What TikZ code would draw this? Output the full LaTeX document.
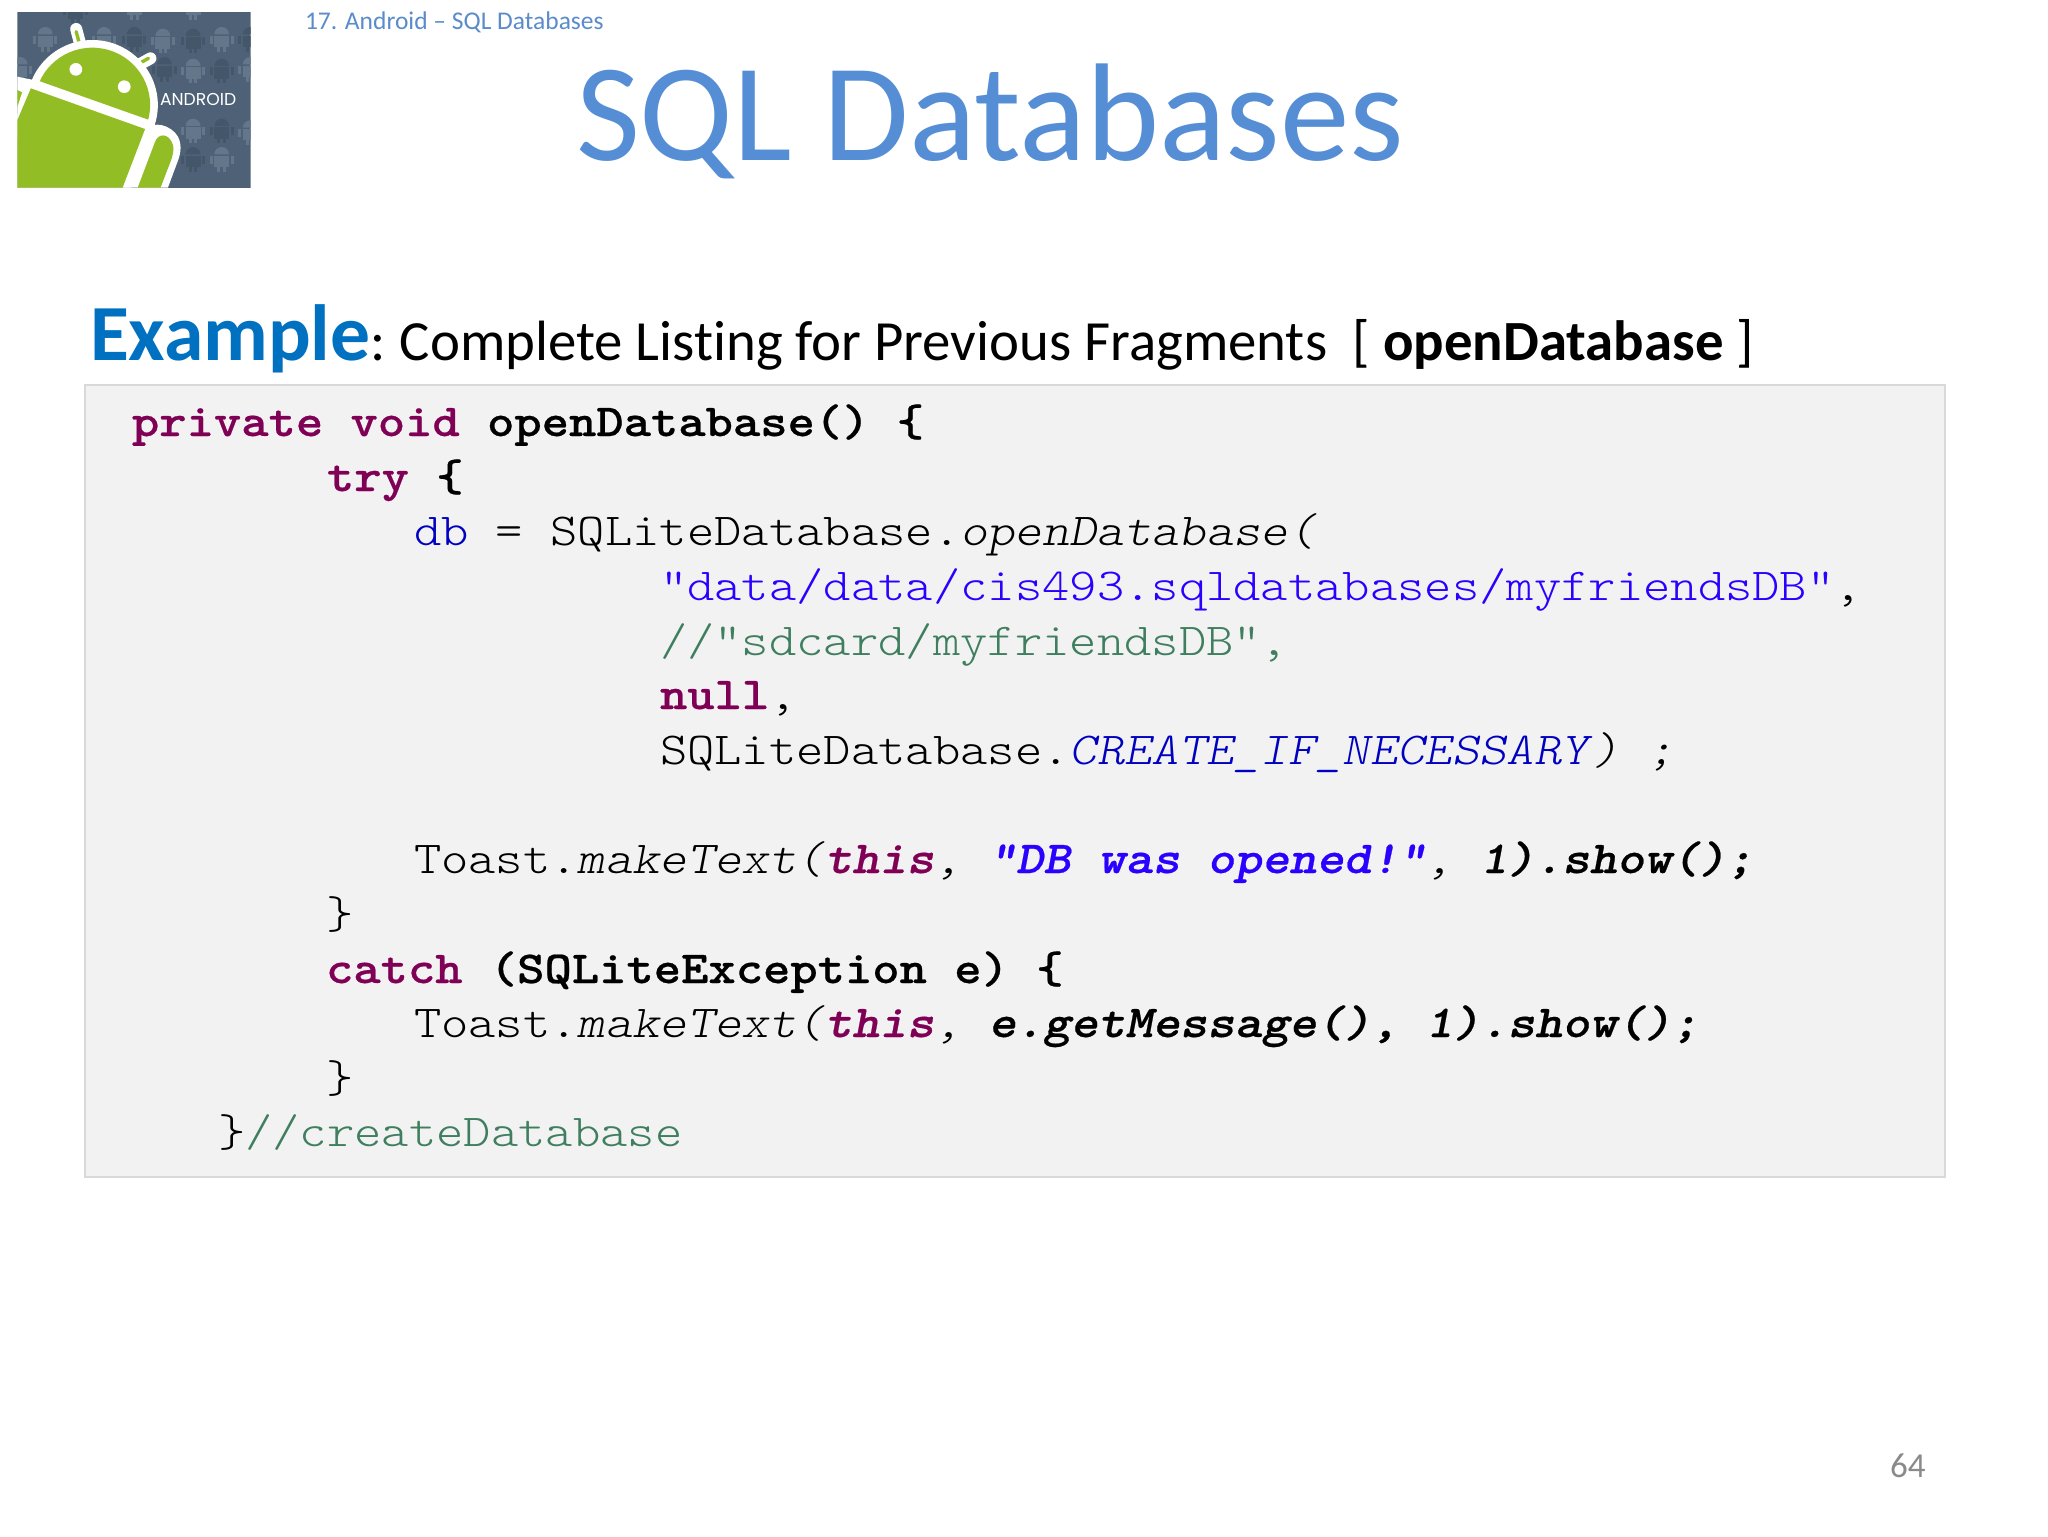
\documentclass[tikz,border=0pt]{standalone}
\usepackage{fontspec}
\setmainfont[Ligatures=CommonOff]{Carlito}
\newfontfamily\logofont{Poppins}
\newfontfamily\codefont[Extension=.otf,FakeStretch=1.138,UprightFont=lmmonolt10-regular,BoldFont=lmmonolt10-bold,ItalicFont=lmmonolt10-oblique,BoldItalicFont=lmmonolt10-boldoblique,BoldFeatures={FakeBold=0.5},BoldItalicFeatures={FakeBold=0.5}]{lmmonolt10-regular}
\definecolor{kw}{HTML}{7F0055}
\definecolor{strc}{HTML}{2A00FF}
\definecolor{cmt}{HTML}{3F7F5F}
\definecolor{fld}{HTML}{0000C0}
\definecolor{titleblue}{HTML}{558ED5}
\definecolor{headblue}{HTML}{5A8BCB}
\definecolor{exblue}{HTML}{0070C0}
\definecolor{boxfill}{HTML}{F2F2F2}
\definecolor{boxline}{HTML}{D9D9D9}
\definecolor{pagenum}{HTML}{8A8A8A}
\definecolor{slate}{HTML}{4E6176}
\definecolor{slatel}{HTML}{64768A}
\definecolor{slated}{HTML}{43566A}
\definecolor{droid}{HTML}{93BD24}
\newcommand{\K}[1]{\textcolor{kw}{\textbf{#1}}}
\newcommand{\KI}[1]{\textcolor{kw}{\textbf{\textit{#1}}}}
\newcommand{\BB}[1]{\textbf{#1}}
\newcommand{\BI}[1]{\textbf{\textit{#1}}}
\newcommand{\II}[1]{\textit{#1}}
\newcommand{\droidicon}[3]{%
  \fill[#3] (#1-22,#2-12) arc (180:360:22) -- cycle;
  \fill[#3] (#1-22,#2-8) rectangle (#1+22,#2+26);
  \fill[#3] (#1-36,#2-8) rectangle (#1-27,#2+16);
  \fill[#3] (#1+27,#2-8) rectangle (#1+36,#2+16);
  \fill[#3] (#1-13,#2+26) rectangle (#1-4,#2+40);
  \fill[#3] (#1+4,#2+26) rectangle (#1+13,#2+40);
}
\tikzset{
  codeline/.style={anchor=base west,inner sep=0pt,outer sep=0pt,text=black,font=\codefont\fontsize{22.86}{27}\selectfont},
  plainlabel/.style={anchor=base west,inner sep=0pt,outer sep=0pt},
}
\begin{document}
\begin{tikzpicture}[x=0.5pt,y=-0.5pt]
\useasboundingbox (0,0) rectangle (2048,1536);
\fill[white] (0,0) rectangle (2048,1536);
% logo
\begin{scope}[shift={(10,5)},x=0.168pt,y=-0.1667pt]
  \clip (22,22) rectangle (716,548);
  \fill[slate] (22,22) rectangle (722,548);
  \foreach \p/\q in {105/100,280/100,455/105,630/100,545/195,545/375,630/460,370/5,545/5,30/190,715/190,715/380}{\droidicon{\p}{\q}{slatel}}
  \foreach \p/\q in {370/100,545/105,630/195,630/375,545/460,195/15,460/190,460/450,715/100}{\droidicon{\p}{\q}{slated}}
  % antennae
  \draw[white,line width=6pt,line cap=round] (197,72) -- (215,140);
  \draw[white,line width=6pt,line cap=round] (418,160) -- (365,190);
  \draw[droid,line width=1.7pt,line cap=round] (197,80) -- (213,140);
  \draw[droid,line width=1.7pt,line cap=round] (412,160) -- (360,190);
  % head
  \fill[white] (245,300) circle (195);
  \begin{scope}
    \clip (0,197) -- (440,354) -- (440,0) -- (0,0) -- cycle;
    \fill[droid] (245,300) circle (172);
  \end{scope}
  \fill[white] (196,193) circle (19);
  \fill[white] (340,245) circle (19);
  % left arm
  \fill[white] (22,215) -- (70,225) -- (30,400) -- (22,400) -- cycle;
  \fill[droid] (22,255) -- (36,262) -- (22,305) -- cycle;
  % body
  \fill[white] (50,225) -- (440,365) -- (360,548) -- (22,548) -- (22,330) -- cycle;
  \fill[droid] (62,250) -- (402,372) -- (335,548) -- (22,548) -- (22,345) -- cycle;
  % right arm
  \fill[white] (337,548) -- (405,375) .. controls (425,345) and (480,360) .. (500,395) .. controls (515,425) and (505,455) .. (495,480) -- (470,548) -- cycle;
  \fill[droid] (380,548) -- (430,415) .. controls (440,380) and (475,385) .. (485,420) .. controls (490,440) and (480,465) .. (470,490) -- (448,548) -- cycle;
\end{scope}
\node[plainlabel,text=white,font=\logofont\fontsize{8.6}{10}\selectfont] (logotext) at (160,105) {ANDROID};
% header
\node[plainlabel,text=headblue,font=\fontsize{12.75}{16}\selectfont] (chapter) at (305,30) {17. Android – SQL Databases};
\node[plainlabel,text=titleblue,font=\fontsize{69.6}{80}\selectfont] (title) at (576,160) {SQL Databases};
\node[plainlabel,text=black,font=\fontsize{28.4}{34}\selectfont] (heading) at (90,360) {\textcolor{exblue}{\fontsize{39.8}{46}\selectfont\textbf{Example}}:\kern0.6pt\ Complete Listing for Previous Fragments\ \ [ \textbf{openDatabase} ]};
% box
\node[draw=boxline,fill=boxfill,line width=1pt,inner sep=0pt,minimum width=930pt,minimum height=396pt,anchor=north west] (codebox) at (84,384) {};
% code
\node[codeline] (l1) at (132,436) {\K{private void} \BB{openDatabase() \{}};
\node[codeline] (l2) at (327,491) {\K{try} \BB{\{}};
\node[codeline] (l3) at (414,545) {\textcolor{fld}{db} = SQLiteDatabase.\II{openDatabase(}};
\node[codeline] (l4) at (660,600) {\textcolor{strc}{"data/data/cis493.sqldatabases/myfriendsDB"},};
\node[codeline] (l5) at (660,655) {\textcolor{cmt}{//"sdcard/myfriendsDB",}};
\node[codeline] (l6) at (660,709) {\K{null},};
\node[codeline] (l7) at (660,764) {SQLiteDatabase.\textcolor{fld}{\II{CREATE\_IF\_NECESSARY}}\II{)\ ;}};
\node[codeline] (l9) at (414,873) {Toast.\II{makeText(}\KI{this}\II{, }\textcolor{strc}{\BI{"DB was opened!"}}\II{, }\BI{1).show();}};
\node[codeline] (l10) at (326,928) {\}};
\node[codeline] (l11) at (326,983) {\K{catch} \BB{(SQLiteException e) \{}};
\node[codeline] (l12) at (414,1037) {Toast.\II{makeText(}\KI{this}\II{, }\BI{e.getMessage(), 1).show();}};
\node[codeline] (l13) at (326,1092) {\}};
\node[codeline] (l14) at (218,1146) {\}\textcolor{cmt}{//createDatabase}};
% page number
\node[plainlabel,text=pagenum,font=\fontsize{17.5}{22}\selectfont] (pageno) at (1890,1477) {64};
\end{tikzpicture}
\end{document}
